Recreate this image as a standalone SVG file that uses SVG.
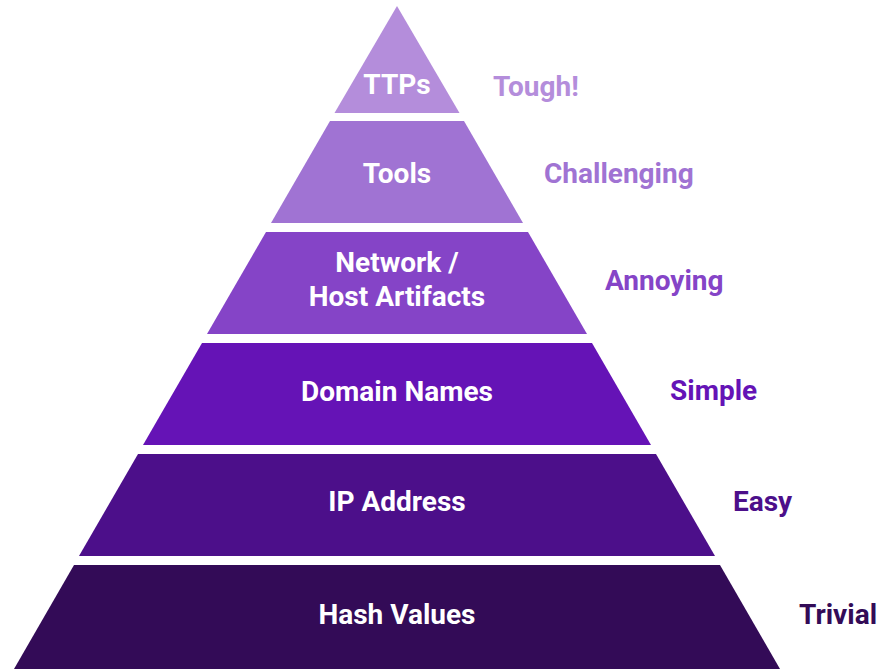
<svg xmlns="http://www.w3.org/2000/svg" width="881" height="669" viewBox="0 0 881 669">
<style>
  .lbl { font-family: Roboto, "Liberation Sans", sans-serif; font-weight: bold; font-size: 28px; fill: #ffffff; text-anchor: middle; }
  .side { font-family: Roboto, "Liberation Sans", sans-serif; font-weight: bold; font-size: 28px; }
</style>
<rect width="881" height="669" fill="#ffffff"/>
<g id="ttps">
  <polygon points="397,6 459.5,113 334.5,113" fill="#b48ddb"/>
  <text class="lbl" x="397" y="94">TTPs</text>
  <text class="side" x="493" y="96" fill="#b48ddb">Tough!</text>
</g>
<g id="tools">
  <polygon points="330,121 464,121 523,223 271,223" fill="#a073d3"/>
  <text class="lbl" x="397" y="183">Tools</text>
  <text class="side" x="544" y="183" fill="#a073d3">Challenging</text>
</g>
<g id="network">
  <polygon points="266,232 528,232 587,334 207,334" fill="#8544c7"/>
  <text class="lbl" x="397" y="272">Network /</text>
  <text class="lbl" x="397" y="306">Host Artifacts</text>
  <text class="side" x="605" y="290" fill="#8544c7">Annoying</text>
</g>
<g id="domain">
  <polygon points="202,343 592,343 651,445 143,445" fill="#6513b6"/>
  <text class="lbl" x="397" y="401">Domain Names</text>
  <text class="side" x="670" y="400" fill="#6513b6">Simple</text>
</g>
<g id="ip">
  <polygon points="138,454 656,454 715,556 79,556" fill="#4c0f8a"/>
  <text class="lbl" x="397" y="511">IP Address</text>
  <text class="side" x="733" y="511" fill="#4c0f8a">Easy</text>
</g>
<g id="hash">
  <polygon points="74,565 720,565 780,669 14,669" fill="#330b57"/>
  <text class="lbl" x="397" y="624">Hash Values</text>
  <text class="side" x="799" y="624" fill="#330b57">Trivial</text>
</g>
<g id="connectors"></g>
</svg>
